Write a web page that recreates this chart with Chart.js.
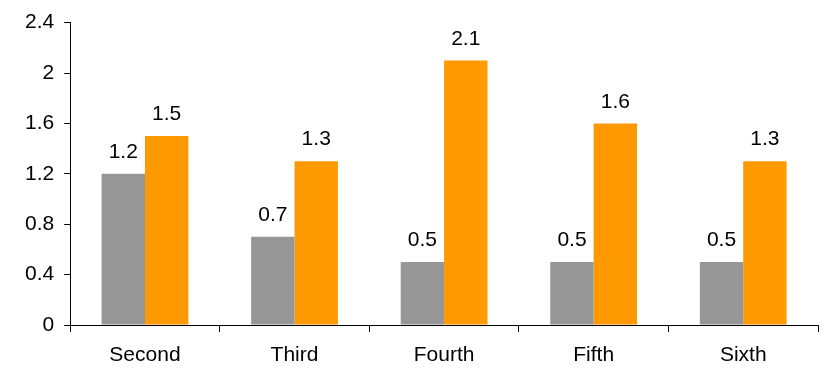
<!DOCTYPE html>
<html lang="en">

<head>
    <meta charset="UTF-8" />
    <title>Bar chart</title>
    <script src="https://cdn.jsdelivr.net/npm/chart.js@4.4.0/dist/chart.umd.min.js"></script>
    <style>
        body { margin: 0; background: #fff; }
        #wrap { width: 825px; height: 368px; }
    </style>
</head>

<body>
    <div id="wrap"><canvas id="chart" width="825" height="368"></canvas></div>

    <script>
        const categories = ['Second', 'Third', 'Fourth', 'Fifth', 'Sixth'];
        const greyValues = [1.2, 0.7, 0.5, 0.5, 0.5];
        const orangeValues = [1.5, 1.3, 2.1, 1.6, 1.3];
        const yTickLabels = ['0', '0.4', '0.8', '1.2', '1.6', '2', '2.4'];

        const FONT = '"Liberation Sans", Arial, sans-serif';

        // draws the value above each bar
        const valueLabels = {
            id: 'valueLabels',
            afterDatasetsDraw(chart) {
                const ctx = chart.ctx;
                ctx.save();
                ctx.font = '21px ' + FONT;
                ctx.fillStyle = '#000';
                ctx.textAlign = 'center';
                ctx.textBaseline = 'bottom';
                chart.data.datasets.forEach((ds, i) => {
                    chart.getDatasetMeta(i).data.forEach((bar, j) => {
                        ctx.fillText(ds.data[j].toString(), bar.x, bar.y - 11);
                    });
                });
                ctx.restore();
            }
        };

        const ctx = document.getElementById('chart').getContext('2d');
        const myChart = new Chart(ctx, {
            type: 'bar',
            data: {
                labels: categories,
                datasets: [{
                    data: greyValues,
                    backgroundColor: '#969696'
                }, {
                    data: orangeValues,
                    backgroundColor: '#FF9900'
                }]
            },
            options: {
                responsive: false,
                animation: false,
                layout: { padding: { top: 7, right: 7, bottom: 0, left: 15 } },
                plugins: {
                    legend: { display: false },
                    tooltip: { enabled: false }
                },
                datasets: {
                    bar: { categoryPercentage: 0.58, barPercentage: 1.0 }
                },
                scales: {
                    x: {
                        offset: true,
                        afterFit: (scale) => { scale.height = 43; },
                        grid: {
                            offset: true,
                            drawOnChartArea: false,
                            tickLength: 7,
                            color: '#000'
                        },
                        border: { color: '#000', width: 1 },
                        ticks: {
                            color: '#000',
                            padding: 11,
                            font: { family: FONT, size: 21 }
                        }
                    },
                    y: {
                        min: 0,
                        max: 2.4,
                        grid: {
                            drawOnChartArea: false,
                            tickLength: 6,
                            color: '#000'
                        },
                        border: { color: '#000', width: 1 },
                        ticks: {
                            stepSize: 0.4,
                            color: '#000',
                            padding: 10,
                            font: { family: FONT, size: 21 },
                            callback: (value, index) => yTickLabels[index]
                        }
                    }
                }
            },
            plugins: [valueLabels]
        });
    </script>
</body>

</html>
